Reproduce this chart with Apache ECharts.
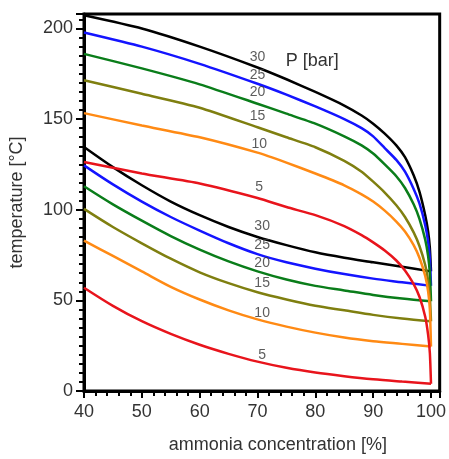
<!DOCTYPE html>
<html><head><meta charset="utf-8">
<script src="https://cdn.jsdelivr.net/npm/echarts@6/dist/echarts.min.js"></script>
<style>html,body{margin:0;padding:0;background:#fff}#c{width:449px;height:459px}</style>
</head><body><div id="c"></div>
<script>
// pressures (bar) and colours
const pressures = ['30','25','20','15','10','5'];
const colors = ['#000000','#1414ff','#0a7d1a','#7f7f10','#ff8a14','#e8141c'];

// bubble (liquid) curves
const bubbleX = [40,45,50,55,60,65,70,75,80,85,90,95,100];
const bubble30 = [134.6,123.5,113.5,104.5,97,90.5,85,80.5,76.5,73.5,71,68.5,66];
const bubble25 = [124.5,114,104.5,96,88.5,81.5,75.5,71,67.5,64.5,62,60,58];
const bubble20 = [113,103,94,85.5,78,71.5,66,61.5,58,55.5,53,51,49.5];
const bubble15 = [100.5,90.5,81.5,73,65.5,59.5,54.5,50.5,47,44.5,42,40,38.5];
const bubble10 = [83,74.5,66,57.5,50.5,44.5,39.5,35.5,32.2,29.5,27.5,26,24.5];
const bubble5  = [57,47,38.5,31.5,25.5,20.5,16.2,12.8,10.2,8.2,6.5,5.2,4];

// dew (vapour) curves
const dewX = [40,50,60,70,75,80,85,88,90,92,94,95.5,97,98,99,99.5,99.8,100];
const dew30 = [207.3,200,190,178.5,172,165,157.5,152,147.5,142,135.5,129,119,110,97,88,79,66];
const dew25 = [197.8,190,180.5,169.5,163.5,157,150,145,140.5,134,127.5,121,111.5,103.5,91.5,82.5,73,58];
const dew20 = [186,178,169.2,158.5,153,147.5,140.5,135.5,131,125,118.5,112,103,95,83.5,74.5,65,49.5];
const dew15 = [171.4,164,156.3,145.5,140,134.5,127,121,115.5,109.5,102.5,96,87.5,80,69.5,61,52,38.5];
const dew10 = [153.3,146.5,140,131.5,126,120,113.5,108.5,104.5,99.5,93.5,88,80.5,73.5,63.5,55,45,24.5];
const dew5  = [126.4,120,114.5,106.5,101.5,97,91,86,82,77.5,72,66.5,59,52,41,31,21,4];

// curve labels
const labelX = [70,70,70,70,70.3,70.3, 70.8,70.8,70.8,70.8,70.8,70.8];
const labelT = [184,174.2,164.8,151.6,136.3,112.6, 90.7,80.2,70.3,59.3,42.9,19.8];
const labelText = ['30','25','20','15','10','5','30','25','20','15','10','5'];

const bubbles = [bubble30,bubble25,bubble20,bubble15,bubble10,bubble5];
const dews = [dew30,dew25,dew20,dew15,dew10,dew5];
const FONT = 'Liberation Sans';

const series = [];
pressures.forEach((p,i)=>{
  series.push({type:'line', name:'dew '+p, data: dewX.map((x,k)=>[x,dews[i][k]]),
    showSymbol:false, smooth:0.2, lineStyle:{color:colors[i], width:2.5}, z:3});
  series.push({type:'line', name:'bubble '+p, data: bubbleX.map((x,k)=>[x,bubbles[i][k]]),
    showSymbol:false, smooth:0.3, lineStyle:{color:colors[i], width:2.5}, z:3});
});
series.push({type:'scatter', symbolSize:0, silent:true, z:5,
  data: labelX.map((x,k)=>[x,labelT[k],labelText[k]]),
  label:{show:true, position:'inside', formatter:p=>p.value[2], color:'#333', fontSize:14, fontFamily:FONT}});

const chart = echarts.init(document.getElementById('c'), null, {renderer:'canvas'});
chart.setOption({
  animation:false,
  grid:{left:83, top:14, width:360, height:378, show:true, borderColor:'#000', borderWidth:3, backgroundColor:'transparent'},
  xAxis:{type:'value', min:40, max:101.5, interval:10,
    name:'ammonia concentration [%]', nameLocation:'middle', nameGap:45,
    nameTextStyle:{fontSize:18, color:'#333', fontFamily:FONT, padding:[0,0,0,32]},
    axisLine:{lineStyle:{color:'#000', width:3}},
    axisTick:{inside:false, length:7, lineStyle:{width:2,color:'#000'}},
    minorTick:{show:true, splitNumber:5, length:5, lineStyle:{width:2,color:'#000'}},
    splitLine:{show:false},
    axisLabel:{fontSize:18, color:'#333', fontFamily:FONT, margin:12, showMaxLabel:false}},
  yAxis:{type:'value', min:0, max:208, interval:50,
    name:'temperature [°C]', nameLocation:'middle', nameGap:58,
    nameTextStyle:{fontSize:18, color:'#333', fontFamily:FONT},
    axisLine:{lineStyle:{color:'#000', width:3}},
    axisTick:{inside:false, length:8, lineStyle:{width:2,color:'#000'}},
    minorTick:{show:true, splitNumber:10, length:5, lineStyle:{width:2,color:'#000'}},
    splitLine:{show:false},
    axisLabel:{fontSize:18, color:'#333', fontFamily:FONT, margin:11, showMaxLabel:false}},
  graphic:[],
  series: series
});
// "P [bar]" annotation anchored in data space
const pPos = chart.convertToPixel({gridIndex:0}, [74.9, 181.3]);
chart.setOption({graphic:[{type:'text', left:pPos[0], top:pPos[1]-10,
  style:{text:'P [bar]', fontSize:18, fill:'#333', fontFamily:FONT}}]});
</script></body></html>
